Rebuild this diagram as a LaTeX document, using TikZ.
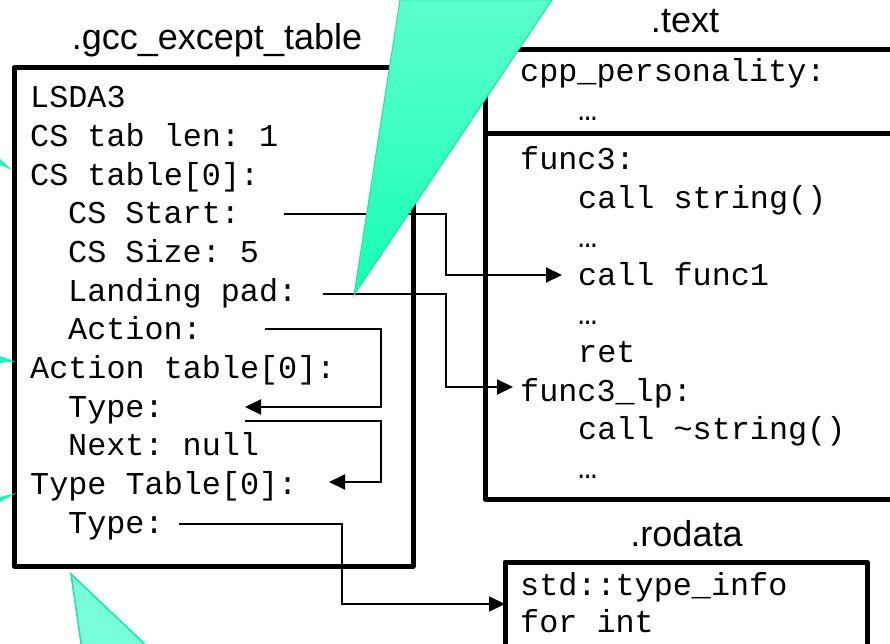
\documentclass[tikz,border=0pt]{standalone}
\usepackage{fontspec}
\setmainfont{Liberation Sans}
\setmonofont{Liberation Mono}
\usetikzlibrary{arrows.meta}
\definecolor{wedgeedge}{HTML}{1CE3A6}
\definecolor{wedgetop}{HTML}{5CFFCB}
\definecolor{wedgebot}{HTML}{16FFB3}
\definecolor{wedgelight}{HTML}{78FFDA}
\definecolor{wedgetip}{HTML}{22F2B4}
\begin{document}
\begin{tikzpicture}[x=1pt,y=-1pt,
  code/.style={anchor=base west,inner sep=0pt,font=\ttfamily\fontsize{31.8}{38}\selectfont},
  sectitle/.style={anchor=base,inner sep=0pt,font=\fontsize{36}{40}\selectfont},
  section/.style={line width=5pt,line join=round},
  link/.style={line width=2pt,-{Triangle[length=16pt,width=15pt]}},
  plainlink/.style={line width=2pt}]
\useasboundingbox (0,0) rectangle (890,644);
\clip (0,0) rectangle (890,644);

% section frames
\draw[section] (14,68) rectangle (413,566);
\draw[section] (905,50) -- (485,50) -- (485,499) -- (905,499);
\draw[section] (485,134) -- (905,134);
\draw[section] (505,660) -- (505,562) -- (867,562) -- (867,660);

% section titles
\node[sectitle] (ttab) at (217,50) {.gcc\_except\_table};
\node[sectitle] (ttext) at (685,33) {.text};
\node[sectitle] (trod) at (686.5,546) {.rodata};

% LSDA contents
\node[code] (lsda)     at (30,108)    {LSDA3};
\node[code] (cslen)    at (30,146.65) {CS tab len: 1};
\node[code] (cstab)    at (30,185.3)  {CS table[0]:};
\node[code] (csstart)  at (68,223.95) {CS Start:};
\node[code] (cssize)   at (68,262.6)  {CS Size: 5};
\node[code] (lpad)     at (68,301.25) {Landing pad:};
\node[code] (action)   at (68,339.9)  {Action:};
\node[code] (acttab)   at (30,378.55) {Action table[0]:};
\node[code] (acttype)  at (68,417.2)  {Type:};
\node[code] (actnext)  at (68,455.85) {Next: null};
\node[code] (typetab)  at (30,494.5)  {Type Table[0]:};
\node[code] (typetype) at (68,533.15) {Type:};

% .text contents
\node[code] (pers)     at (520,82)    {cpp\_personality:};
\node[code] (persdots) at (578,121)   {…};
\node[code] (func)     at (520,170)   {func3:};
\node[code] (callstr)  at (578,208.5) {call string()};
\node[code] (dotsa)    at (578,247)   {…};
\node[code] (callf)    at (578,285.5) {call func1};
\node[code] (dotsb)    at (578,324)   {…};
\node[code] (ret)      at (578,362.5) {ret};
\node[code] (lp)       at (520,401)   {func3\_lp:};
\node[code] (calldtor) at (578,439.5) {call \textasciitilde string()};
\node[code] (dotsc)    at (578,478)   {…};

% .rodata contents
\node[code] (tinfo)    at (520,595)   {std::type\_info};
\node[code] (tint)     at (520,632.5) {for int};

% connector end points
\coordinate (csstartout) at (284,214);
\coordinate (callfin)    at (562,275);
\coordinate (lpadout)    at (323,294);
\coordinate (lpin)       at (513,387);
\coordinate (actionout)  at (265,329);
\coordinate (acttypein)  at (245,407);
\coordinate (acttypeout) at (245,421);
\coordinate (typetabin)  at (329,482);
\coordinate (typeout)    at (179,524);
\coordinate (tinfoin)    at (505,604);

% connectors
\draw[link] (csstartout) -- (446,214) -- (446,275) -- (callfin);
\draw[link] (lpadout) -- (446,294) -- (446,387) -- (lpin);
\draw[link] (actionout) -- (381,329) -- (381,407) -- (acttypein);
\draw[link] (acttypeout) -- (381,421) -- (381,482) -- (typetabin);
\draw[link] (typeout) -- (342,524) -- (342,604) -- (tinfoin);

% callout pointers
\draw[wedgeedge,line width=1pt,top color=wedgetop,bottom color=wedgebot]
  (400,0) -- (354,295) -- (552,0) -- cycle;
\draw[wedgeedge,line width=1.5pt,fill=wedgelight]
  (82,650) -- (71,574) -- (151,650) -- cycle;
\fill[wedgetip] (0,159) -- (12,170) -- (0,165) -- cycle;
\fill[wedgetip] (0,356) -- (15,361.5) -- (0,363) -- cycle;
\fill[wedgetip] (0,497) -- (16,493) -- (0,502) -- cycle;
\end{tikzpicture}
\end{document}
